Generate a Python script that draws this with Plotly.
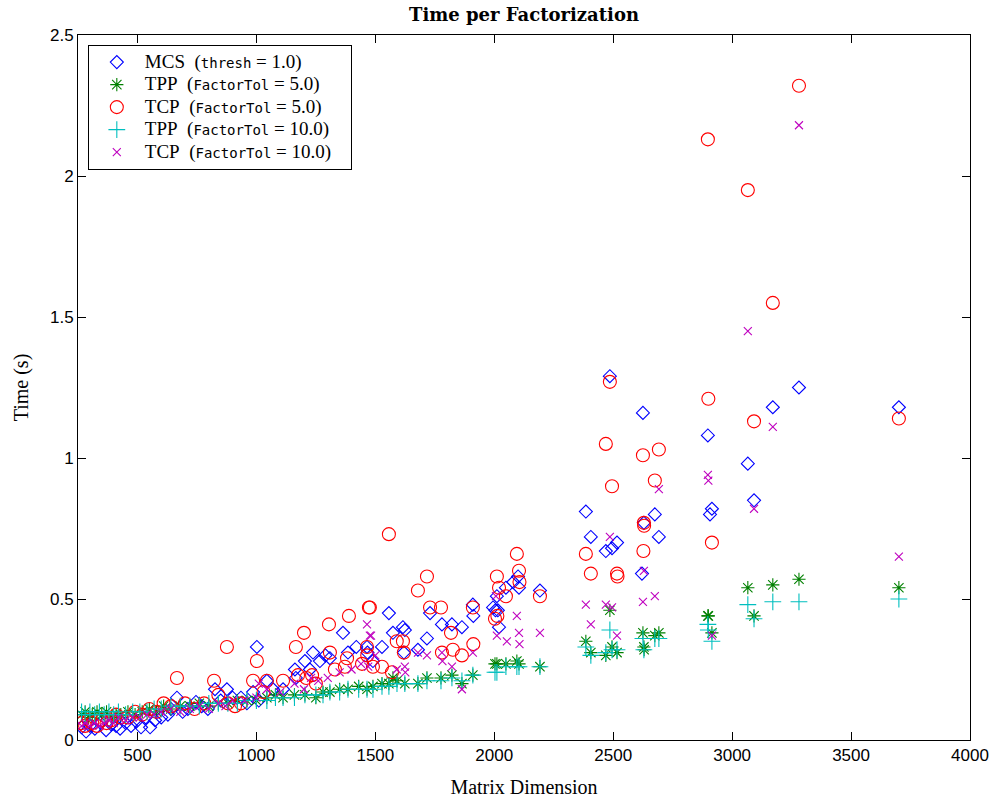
import plotly.graph_objects as go

# ---------------- data ----------------
mcs_x = [265, 284, 300, 321, 345, 368, 390, 410, 427, 450, 473, 495, 515, 535, 553, 574, 600, 628,
         641, 666, 690, 712, 746, 770, 796, 826, 850, 876, 900, 935, 960, 986, 1002, 1010, 1044, 1070,
         1112, 1162, 1166, 1204, 1225, 1238, 1267, 1290, 1309, 1364, 1385, 1420, 1465, 1467, 1490,
         1528, 1557, 1574, 1616, 1620, 1624, 1679, 1717, 1730, 1780, 1822, 1864, 1910, 1912, 1995,
         2005, 2011, 2015, 2020, 2049, 2080, 2100, 2104, 2192, 2385, 2406, 2469, 2486, 2495, 2516,
         2621, 2625, 2629, 2675, 2692, 2898, 2907, 2915, 3066, 3092, 3171, 3281, 3701]
mcs_y = [0.045, 0.03, 0.05, 0.04, 0.06, 0.035, 0.055, 0.05, 0.04, 0.06, 0.05, 0.065, 0.045, 0.08,
         0.045, 0.07, 0.08, 0.09, 0.11, 0.15, 0.10, 0.11, 0.135, 0.12, 0.11, 0.18, 0.14, 0.18, 0.15,
         0.15, 0.13, 0.17, 0.33, 0.14, 0.21, 0.18, 0.18, 0.25, 0.22, 0.28, 0.25, 0.31, 0.28, 0.30,
         0.29, 0.38, 0.31, 0.33, 0.33, 0.31, 0.28, 0.33, 0.45, 0.38, 0.40, 0.31, 0.39, 0.32, 0.36,
         0.45, 0.41, 0.41, 0.40, 0.48, 0.44, 0.47, 0.46, 0.51, 0.46, 0.40, 0.54, 0.56, 0.58, 0.54,
         0.53, 0.81, 0.72, 0.67, 1.29, 0.68, 0.70, 0.59, 1.16, 0.77, 0.80, 0.72, 1.08, 0.80, 0.82,
         0.98, 0.85, 1.18, 1.25, 1.18]

tcp5_x = [265, 280, 295, 310, 330, 350, 370, 390, 410, 430, 460, 490, 520, 550, 580, 610, 640, 666,
          700, 740, 780, 822, 840, 876, 880, 910, 935, 986, 1002, 1030, 1044, 1112, 1166, 1175, 1200,
          1210, 1234, 1250, 1305, 1309, 1330, 1372, 1381, 1389, 1444, 1465, 1466, 1473, 1477, 1490,
          1528, 1557, 1570, 1590, 1616, 1620, 1679, 1717, 1730, 1776, 1780, 1818, 1826, 1864, 1910,
          1912, 2003, 2011, 2013, 2020, 2049, 2095, 2104, 2106, 2192, 2385, 2406, 2469, 2486, 2495,
          2516, 2518, 2625, 2627, 2629, 2630, 2675, 2692, 2898, 2900, 2915, 3066, 3092, 3171, 3281, 3701]
tcp5_y = [0.06, 0.05, 0.07, 0.06, 0.05, 0.07, 0.06, 0.07, 0.09, 0.08, 0.08, 0.10, 0.09, 0.11, 0.10,
          0.13, 0.12, 0.22, 0.13, 0.11, 0.13, 0.21, 0.16, 0.33, 0.13, 0.12, 0.13, 0.21, 0.28, 0.17,
          0.21, 0.21, 0.33, 0.23, 0.38, 0.22, 0.23, 0.20, 0.41, 0.31, 0.25, 0.26, 0.29, 0.44, 0.27,
          0.33, 0.30, 0.47, 0.47, 0.26, 0.26, 0.73, 0.24, 0.35, 0.35, 0.31, 0.53, 0.58, 0.47, 0.47,
          0.31, 0.38, 0.32, 0.30, 0.47, 0.34, 0.43, 0.58, 0.44, 0.54, 0.51, 0.66, 0.60, 0.56, 0.51,
          0.66, 0.59, 1.05, 1.27, 0.90, 0.59, 0.58, 1.01, 0.67, 0.77, 0.76, 0.92, 1.03, 2.13, 1.21,
          0.70, 1.95, 1.13, 1.55, 2.32, 1.14]

tpp5_x = [265, 280, 295, 310, 330, 350, 370, 390, 410, 430, 460, 490, 520, 550, 580, 610, 640, 680,
          720, 760, 800, 840, 880, 920, 960, 1000, 1044, 1080, 1112, 1160, 1204, 1250, 1280, 1309,
          1350, 1385, 1430, 1465, 1490, 1528, 1557, 1574, 1591, 1624, 1679, 1717, 1776, 1822, 1864,
          1910, 2003, 2011, 2049, 2095, 2104, 2192, 2385, 2406, 2469, 2486, 2495, 2516, 2625, 2629,
          2630, 2675, 2692, 2898, 2900, 2915, 3066, 3092, 3171, 3281, 3701]
tpp5_y = [0.09, 0.10, 0.08, 0.09, 0.10, 0.09, 0.10, 0.08, 0.09, 0.09, 0.10, 0.09, 0.10, 0.11, 0.10,
          0.12, 0.11, 0.12, 0.12, 0.13, 0.12, 0.13, 0.13, 0.14, 0.14, 0.14, 0.15, 0.16, 0.15, 0.16,
          0.16, 0.15, 0.17, 0.17, 0.18, 0.18, 0.19, 0.18, 0.19, 0.20, 0.20, 0.22, 0.21, 0.20, 0.20,
          0.22, 0.22, 0.23, 0.20, 0.23, 0.27, 0.27, 0.27, 0.28, 0.27, 0.26, 0.35, 0.31, 0.30, 0.46,
          0.33, 0.31, 0.38, 0.33, 0.32, 0.37, 0.38, 0.44, 0.44, 0.38, 0.54, 0.44, 0.55, 0.57, 0.54]

tpp10_x = [265, 280, 300, 320, 340, 360, 380, 400, 420, 450, 480, 510, 540, 570, 600, 640, 680, 720,
           760, 800, 840, 880, 920, 960, 1000, 1044, 1080, 1112, 1160, 1204, 1250, 1280, 1309, 1350,
           1385, 1430, 1465, 1490, 1528, 1557, 1591, 1624, 1679, 1717, 1776, 1822, 1864, 1910, 2003,
           2011, 2049, 2095, 2104, 2192, 2385, 2406, 2469, 2486, 2495, 2516, 2625, 2629, 2675, 2692,
           2898, 2900, 2915, 3066, 3092, 3171, 3281, 3701]
tpp10_y = [0.10, 0.09, 0.10, 0.09, 0.10, 0.09, 0.10, 0.09, 0.10, 0.09, 0.10, 0.10, 0.10, 0.11, 0.11,
           0.12, 0.12, 0.12, 0.12, 0.13, 0.13, 0.13, 0.13, 0.14, 0.14, 0.14, 0.15, 0.15, 0.15, 0.16,
           0.16, 0.16, 0.17, 0.17, 0.18, 0.18, 0.18, 0.18, 0.19, 0.19, 0.20, 0.20, 0.20, 0.21, 0.21,
           0.22, 0.21, 0.23, 0.24, 0.24, 0.26, 0.26, 0.26, 0.26, 0.33, 0.30, 0.31, 0.39, 0.32, 0.32,
           0.36, 0.32, 0.36, 0.36, 0.41, 0.39, 0.35, 0.48, 0.43, 0.49, 0.49, 0.50]

tcp10_x = [265, 280, 300, 320, 340, 360, 380, 400, 420, 450, 480, 510, 540, 570, 600, 640, 680, 720,
           760, 800, 840, 870, 900, 950, 1000, 1010, 1044, 1100, 1160, 1200, 1230, 1260, 1300, 1350,
           1400, 1440, 1465, 1470, 1477, 1482, 1500, 1590, 1624, 1626, 1679, 1717, 1780, 1782, 1822,
           1864, 1910, 2007, 2011, 2053, 2095, 2104, 2106, 2192, 2385, 2406, 2469, 2486, 2495, 2516,
           2625, 2629, 2675, 2692, 2898, 2900, 2915, 3066, 3092, 3171, 3281, 3701]
tcp10_y = [0.05, 0.06, 0.05, 0.06, 0.05, 0.06, 0.07, 0.06, 0.08, 0.07, 0.08, 0.08, 0.09, 0.09, 0.10,
           0.11, 0.10, 0.11, 0.12, 0.11, 0.13, 0.12, 0.14, 0.14, 0.15, 0.20, 0.18, 0.17, 0.20, 0.18,
           0.22, 0.21, 0.22, 0.24, 0.25, 0.27, 0.41, 0.26, 0.37, 0.37, 0.30, 0.25, 0.26, 0.24, 0.31,
           0.30, 0.31, 0.28, 0.26, 0.18, 0.31, 0.51, 0.37, 0.35, 0.44, 0.38, 0.34, 0.38, 0.48, 0.41,
           0.48, 0.72, 0.47, 0.37, 0.49, 0.60, 0.51, 0.89, 0.94, 0.92, 0.37, 1.45, 0.82, 1.11, 2.18, 0.65]

x_ticks = [500, 1000, 1500, 2000, 2500, 3000, 3500, 4000]
y_ticks = [0, 0.5, 1, 1.5, 2, 2.5]
y_tick_labels = ["0", "0.5", "1", "1.5", "2", "2.5"]

BIG = '<span style="font-size:19px">'
MONO = '<span style="font-family:\'DejaVu Sans Mono\', monospace; font-size:14px">'
GAP = "&nbsp;&nbsp;"
TAIL = "&nbsp;&nbsp;&nbsp;"


def label(method, param, val):
    return (BIG + method + GAP + "(</span>" + MONO + param + "</span>" + BIG + " = " + val + ")"
            + TAIL + "</span>")


series = [
    (mcs_x, mcs_y, label("MCS", "thresh", "1.0"), "diamond-open", "#0000FF", 10),
    (tpp5_x, tpp5_y, label("TPP", "FactorTol", "5.0"), "asterisk-open", "#008000", 11),
    (tcp5_x, tcp5_y, label("TCP", "FactorTol", "5.0"), "circle-open", "#FF0000", 13),
    (tpp10_x, tpp10_y, label("TPP", "FactorTol", "10.0"), "cross-thin-open", "#00BFBF", 12),
    (tcp10_x, tcp10_y, label("TCP", "FactorTol", "10.0"), "x-thin-open", "#BF00BF", 8),
]

fig = go.Figure()
for xs, ys, name, sym, col, sz in series:
    fig.add_trace(go.Scatter(
        x=xs, y=ys, mode="markers", name=name,
        marker=dict(symbol=sym, size=sz, color=col, line=dict(color=col, width=1.1)),
    ))

serif = "Liberation Serif, DejaVu Serif, serif"
axis_common = dict(showline=True, linecolor="black", linewidth=1, mirror="allticks",
                   ticks="inside", ticklen=8, tickcolor="black", showgrid=False, zeroline=False,
                   automargin=False,
                   tickfont=dict(family="Liberation Sans, Arial, sans-serif", size=17, color="black"))

fig.update_layout(
    width=999, height=798,
    margin=dict(l=78, r=29, t=35, b=58),
    paper_bgcolor="white", plot_bgcolor="white",
    title=dict(text="<b>Time per Factorization</b>", x=0.5, xref="paper", xanchor="center",
               y=1 - 15 / 798, yref="container", yanchor="middle",
               font=dict(family="DejaVu Serif, serif", size=18, color="black")),
    xaxis=dict(range=[250, 4000], tickvals=x_ticks, ticktext=[str(v) for v in x_ticks],
               title=dict(text="Matrix Dimension", font=dict(family=serif, size=20, color="black")),
               **axis_common),
    yaxis=dict(range=[0, 2.5], tickvals=y_ticks, ticktext=y_tick_labels,
               title=dict(text="Time (s)", font=dict(family=serif, size=20, color="black")),
               **axis_common),
    legend=dict(x=0.011, y=0.986, xanchor="left", yanchor="top",
                bgcolor="white", bordercolor="black", borderwidth=1,
                font=dict(family=serif, size=15, color="black"),
                itemwidth=46),
    showlegend=True,
)

fig.write_html("out.html")
